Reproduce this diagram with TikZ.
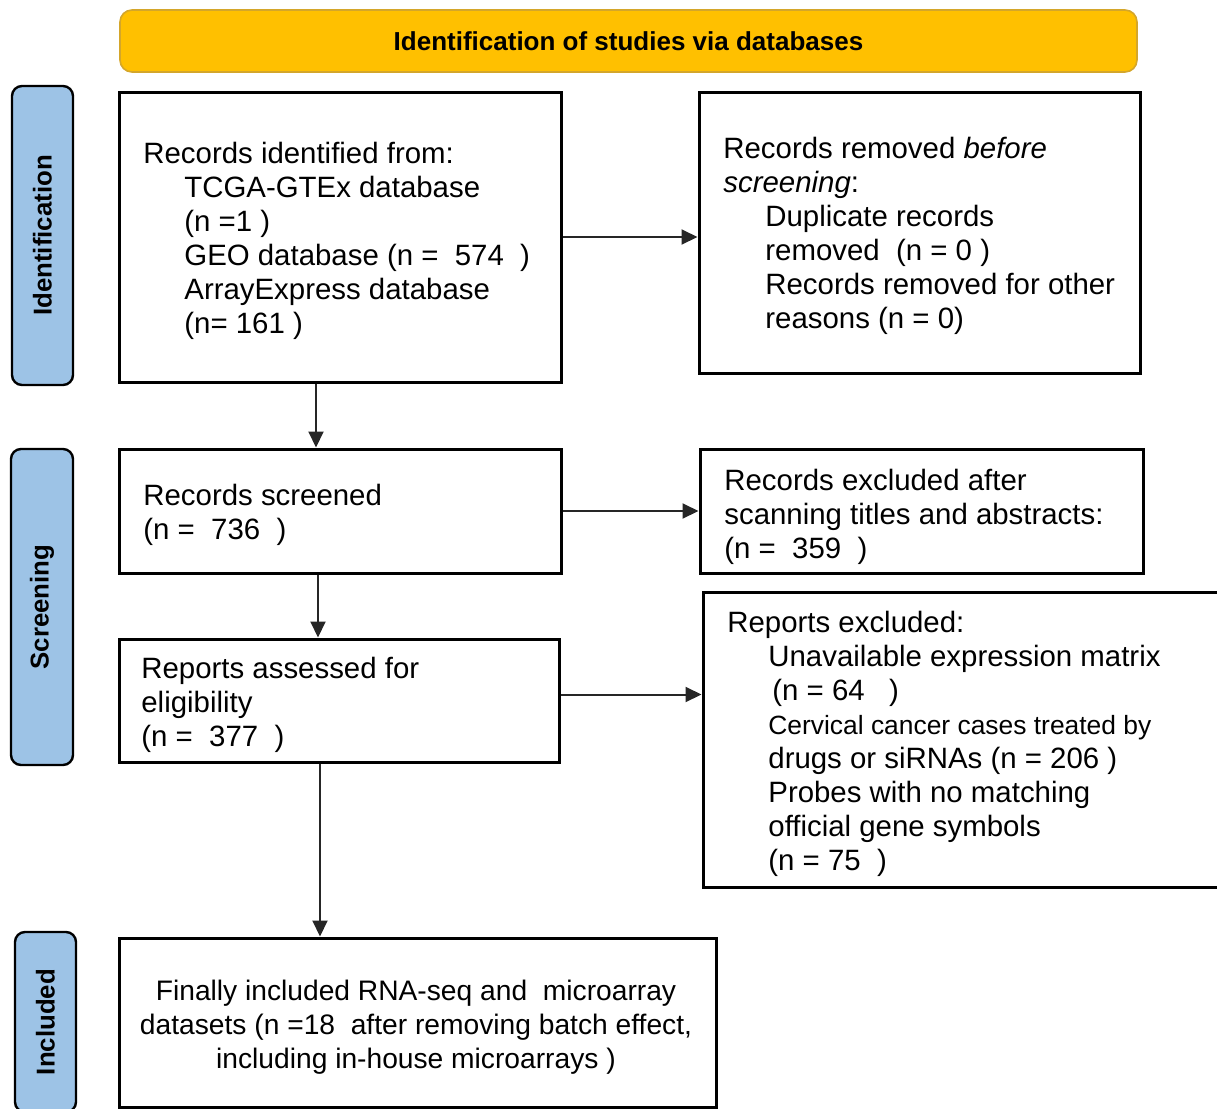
\documentclass[tikz,border=0pt]{standalone}
\usepackage{fontspec}
\setmainfont{Liberation Sans}
\usetikzlibrary{arrows.meta}
\definecolor{gold}{HTML}{FFC000}
\definecolor{goldedge}{HTML}{D4A62A}
\definecolor{sideblue}{HTML}{9DC3E6}
\newcommand{\ind}{\hspace*{20.5pt}}
\begin{document}
\begin{tikzpicture}[x=0.5pt,y=-0.5pt,
  box/.style={draw=black, line width=1.5pt, inner sep=0pt, fill=white},
  phase/.style={draw=black, line width=1.2pt, fill=sideblue, rounded corners=5pt, inner sep=0pt,
                rotate=90, font=\fontsize{12.9}{15}\selectfont\bfseries},
  txt/.style={anchor=north west, inner sep=0pt, align=left, font=\fontsize{14.7}{17}\selectfont},
  arr/.style={-{Triangle[length=8pt,width=7.5pt]}, line width=1pt, draw=black!85}]
\useasboundingbox (0,0) rectangle (1217,1109);

% header
\node[draw=goldedge, line width=0.8pt, fill=gold, rounded corners=6pt, minimum width=508.5pt,
      minimum height=31pt, font=\fontsize{13}{15}\selectfont\bfseries] (hdr) at (628.5,41)
      {Identification of studies via databases};

% phase labels
\node[phase, minimum width=149.5pt, minimum height=30.5pt] (pid) at (42.5,235.5) {Identification};
\node[phase, minimum width=158pt, minimum height=31pt] (psc) at (42,607) {Screening};
\node[phase, minimum width=90pt, minimum height=30.5pt] (pin) at (45.5,1022) {Included};

% boxes
\node[box, minimum width=221pt, minimum height=145pt] (b1) at (340,237) {};
\node[box, minimum width=220.5pt, minimum height=140.5pt] (b2) at (919.5,232.5) {};
\node[box, minimum width=221pt, minimum height=62pt] (b3) at (340,511) {};
\node[box, minimum width=221.5pt, minimum height=62pt] (b4) at (921.5,511) {};
\node[box, minimum width=220pt, minimum height=61.5pt] (b5) at (339,700.5) {};
\node[box, minimum width=263.5pt, minimum height=147.5pt] (b6) at (966.5,739.5) {};
\node[box, minimum width=298.5pt, minimum height=84.5pt] (b7) at (417.5,1022.5) {};

% texts
\node[txt] (t1) at (143,142) {Records identified from:\\
\ind TCGA-GTEx database\\
\ind (n =1 )\\
\ind GEO database (n =\ \ 574\ \ )\\
\ind ArrayExpress database\\
\ind (n=\ 161 )};

\node[txt] (t2) at (723,137) {Records removed \textit{before}\\
\textit{screening}:\\
\hspace*{21pt}Duplicate records\\
\hspace*{21pt}removed\ \ (n = 0 )\\
\hspace*{21pt}Records removed for other\\
\hspace*{21pt}reasons (n = 0)};

\node[txt] (t3) at (143,484) {Records screened\\ (n =\ \ 736\ \ )};
\node[txt] (t4) at (724,469) {Records excluded after\\ scanning titles and abstracts:\\ (n =\ \ 359\ \ )};
\node[txt] (t5) at (141,657) {Reports assessed for\\ eligibility\\ (n =\ \ 377\ \ )};

\node[txt] (t6) at (727,611) {Reports excluded:\\
\ind Unavailable expression matrix\\
\hspace*{22.5pt}(n = 64\ \ \ )\\
\ind{\fontsize{13.2}{17}\selectfont Cervical cancer cases treated by}\\
\ind drugs or siRNAs (n = 206 )\\
\ind Probes with no matching\\
\ind official gene symbols\\
\ind (n = 75\ \ )};

\node[anchor=north, inner sep=0pt, align=center, font=\fontsize{14.1}{17}\selectfont] (t7) at (416,980)
{Finally included RNA-seq and\ \ microarray\\
datasets (n =18\ \ after removing batch effect,\\
including in-house microarrays )};

% arrows
\draw[arr] (b1.east) -- (b1.east -| b2.west);
\draw[arr] ([xshift=-12pt]b1.south) -- ([xshift=-12pt]b1.south |- b3.north);
\draw[arr] (b3.east) -- (b3.east -| b4.west);
\draw[arr] ([xshift=-11pt]b3.south) -- ([xshift=-11pt]b3.south |- b5.north);
\draw[arr] ([yshift=3pt]b5.east) -- ([yshift=3pt]b5.east -| b6.west);
\draw[arr] ([xshift=-9.5pt]b5.south) -- ([xshift=-9.5pt]b5.south |- b7.north);
\end{tikzpicture}
\end{document}
